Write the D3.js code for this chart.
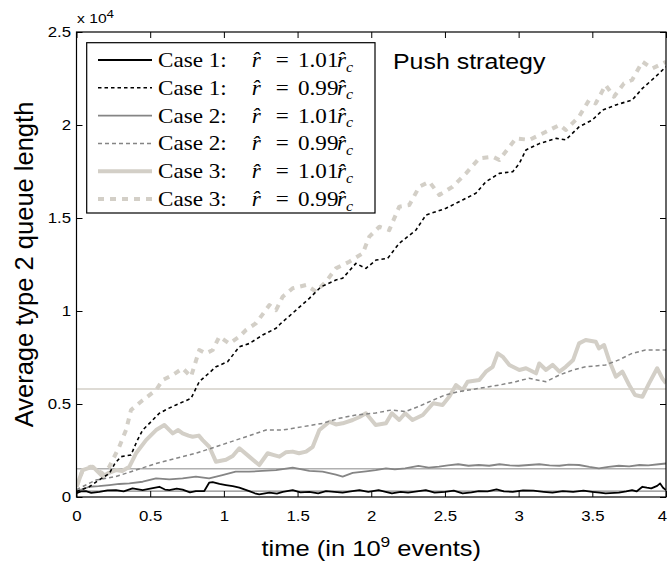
<!DOCTYPE html>
<html><head><meta charset="utf-8">
<script src="https://cdn.jsdelivr.net/npm/d3@7"></script>
<style>body{margin:0;background:#fff}svg{display:block}</style>
</head><body>
<svg id="c" width="668" height="565"></svg>
<script>
// ---- data (values in units of 10^4) ----
const xTicks = [0, 0.5, 1, 1.5, 2, 2.5, 3, 3.5, 4];
const yTicks = [0, 0.5, 1, 1.5, 2, 2.5];
const xTickLabels = ["0","0.5","1","1.5","2","2.5","3","3.5","4"];
const yTickLabels = ["0","0.5","1","1.5","2","2.5"];

const case1High = [[0,0.02],[0.03,0.03],[0.064,0.032],[0.1,0.022],[0.155,0.028],[0.21,0.036],[0.268,0.037],[0.32,0.03],[0.38,0.046],[0.449,0.037],[0.5,0.045],[0.562,0.055],[0.6,0.04],[0.63,0.037],[0.68,0.045],[0.72,0.04],[0.77,0.025],[0.81,0.032],[0.867,0.032],[0.9,0.077],[0.924,0.08],[0.97,0.07],[1.014,0.064],[1.06,0.058],[1.105,0.05],[1.172,0.032],[1.21,0.02],[1.24,0.014],[1.309,0.023],[1.36,0.018],[1.4,0.028],[1.467,0.037],[1.52,0.025],[1.58,0.028],[1.64,0.02],[1.693,0.032],[1.75,0.028],[1.806,0.023],[1.86,0.03],[1.92,0.037],[1.98,0.028],[2.05,0.037],[2.14,0.02],[2.2,0.028],[2.25,0.023],[2.31,0.03],[2.37,0.037],[2.43,0.024],[2.5,0.028],[2.56,0.034],[2.62,0.02],[2.68,0.025],[2.73,0.032],[2.79,0.03],[2.85,0.041],[2.9,0.03],[2.96,0.028],[3.03,0.036],[3.1,0.034],[3.17,0.028],[3.23,0.023],[3.3,0.032],[3.37,0.028],[3.44,0.034],[3.5,0.028],[3.55,0.024],[3.59,0.02],[3.68,0.023],[3.73,0.03],[3.77,0.037],[3.8,0.03],[3.84,0.055],[3.87,0.05],[3.9,0.046],[3.94,0.06],[3.96,0.073],[3.98,0.05],[4.0,0.037]];

const case1Low = [[0,0.03],[0.087,0.055],[0.15,0.09],[0.223,0.127],[0.26,0.18],[0.302,0.217],[0.37,0.226],[0.41,0.3],[0.449,0.36],[0.5,0.4],[0.562,0.45],[0.62,0.475],[0.675,0.495],[0.777,0.53],[0.833,0.62],[0.89,0.66],[0.946,0.70],[1.025,0.727],[1.105,0.808],[1.172,0.825],[1.263,0.871],[1.354,0.907],[1.387,0.934],[1.44,0.97],[1.49,1.005],[1.58,1.068],[1.659,1.13],[1.76,1.167],[1.806,1.176],[1.896,1.256],[1.964,1.229],[2.032,1.274],[2.111,1.283],[2.19,1.364],[2.303,1.435],[2.371,1.516],[2.507,1.552],[2.62,1.597],[2.71,1.633],[2.778,1.695],[2.869,1.74],[2.96,1.749],[3.005,1.794],[3.05,1.866],[3.141,1.90],[3.254,1.928],[3.32,1.92],[3.41,1.99],[3.5,2.027],[3.57,2.08],[3.66,2.108],[3.77,2.134],[3.84,2.197],[3.93,2.26],[4.0,2.313]];

const case2High = [[0,0.03],[0.087,0.055],[0.15,0.058],[0.223,0.064],[0.29,0.07],[0.359,0.073],[0.449,0.082],[0.54,0.1],[0.63,0.095],[0.72,0.1],[0.81,0.11],[0.9,0.1],[0.99,0.118],[1.08,0.136],[1.17,0.136],[1.26,0.14],[1.354,0.145],[1.467,0.158],[1.52,0.15],[1.58,0.14],[1.67,0.136],[1.76,0.12],[1.806,0.11],[1.874,0.13],[1.964,0.138],[2.03,0.145],[2.1,0.154],[2.16,0.148],[2.23,0.154],[2.32,0.167],[2.39,0.158],[2.46,0.163],[2.52,0.17],[2.59,0.176],[2.66,0.168],[2.73,0.172],[2.8,0.168],[2.87,0.176],[2.94,0.17],[3.0,0.168],[3.07,0.172],[3.14,0.176],[3.21,0.17],[3.277,0.168],[3.34,0.174],[3.41,0.172],[3.48,0.162],[3.545,0.154],[3.61,0.162],[3.68,0.168],[3.75,0.165],[3.82,0.172],[3.88,0.17],[3.95,0.176],[4.0,0.18]];

const case2Low = [[0,0.04],[0.132,0.091],[0.268,0.11],[0.404,0.145],[0.54,0.18],[0.675,0.208],[0.81,0.235],[0.946,0.27],[1.082,0.306],[1.218,0.342],[1.286,0.36],[1.399,0.36],[1.535,0.378],[1.67,0.396],[1.783,0.423],[1.896,0.441],[2.03,0.452],[2.14,0.468],[2.23,0.459],[2.32,0.486],[2.42,0.521],[2.5,0.548],[2.59,0.566],[2.73,0.584],[2.87,0.602],[2.98,0.62],[3.07,0.638],[3.186,0.62],[3.277,0.656],[3.37,0.683],[3.455,0.7],[3.59,0.71],[3.68,0.737],[3.77,0.772],[3.86,0.79],[4.0,0.79]];

const case3High = [[0,0.055],[0.042,0.145],[0.11,0.163],[0.178,0.11],[0.22,0.13],[0.268,0.145],[0.31,0.14],[0.359,0.163],[0.404,0.235],[0.472,0.306],[0.54,0.36],[0.596,0.387],[0.653,0.342],[0.69,0.36],[0.72,0.342],[0.76,0.33],[0.788,0.324],[0.83,0.33],[0.856,0.306],[0.901,0.27],[0.946,0.19],[1.014,0.2],[1.06,0.22],[1.105,0.262],[1.172,0.217],[1.24,0.172],[1.297,0.235],[1.34,0.225],[1.377,0.217],[1.42,0.24],[1.467,0.244],[1.51,0.235],[1.558,0.244],[1.603,0.27],[1.648,0.36],[1.716,0.405],[1.76,0.39],[1.806,0.396],[1.874,0.414],[1.92,0.43],[1.964,0.45],[2.03,0.387],[2.1,0.396],[2.14,0.45],[2.19,0.414],[2.23,0.45],[2.28,0.414],[2.35,0.441],[2.42,0.504],[2.484,0.495],[2.53,0.54],[2.575,0.602],[2.62,0.575],[2.654,0.62],[2.733,0.629],[2.778,0.674],[2.824,0.7],[2.858,0.772],[2.891,0.755],[2.937,0.71],[3.005,0.683],[3.05,0.692],[3.118,0.665],[3.14,0.718],[3.186,0.683],[3.231,0.71],[3.277,0.674],[3.32,0.7],[3.37,0.737],[3.41,0.826],[3.455,0.844],[3.523,0.835],[3.545,0.799],[3.58,0.817],[3.613,0.737],[3.66,0.647],[3.704,0.674],[3.75,0.602],[3.79,0.548],[3.84,0.539],[3.885,0.611],[3.94,0.692],[3.975,0.638],[4.0,0.611]];

const case3Low = [[0,0.055],[0.042,0.145],[0.098,0.163],[0.178,0.127],[0.223,0.163],[0.29,0.27],[0.336,0.36],[0.37,0.468],[0.449,0.52],[0.54,0.575],[0.585,0.629],[0.653,0.656],[0.72,0.692],[0.777,0.647],[0.833,0.79],[0.879,0.772],[0.924,0.79],[0.969,0.862],[1.037,0.825],[1.105,0.862],[1.15,0.898],[1.218,0.934],[1.309,1.032],[1.354,1.005],[1.399,1.077],[1.467,1.122],[1.558,1.14],[1.625,1.104],[1.693,1.158],[1.76,1.229],[1.851,1.265],[1.942,1.31],[1.987,1.40],[2.055,1.453],[2.122,1.435],[2.19,1.561],[2.258,1.57],[2.326,1.668],[2.394,1.695],[2.462,1.624],[2.552,1.668],[2.643,1.74],[2.733,1.821],[2.824,1.83],[2.869,1.812],[2.982,1.928],[3.073,1.92],[3.186,1.964],[3.277,2.0],[3.32,1.973],[3.41,2.045],[3.478,2.134],[3.523,2.116],[3.59,2.215],[3.647,2.152],[3.715,2.224],[3.77,2.242],[3.84,2.34],[3.907,2.304],[4.0,2.34]];

const refLevels = [0.58, 0.152, 0.032];

const legendCases = ["Case 1:", "Case 1:", "Case 2:", "Case 2:", "Case 3:", "Case 3:"];
const legendFactors = ["1.01", "0.99", "1.01", "0.99", "1.01", "0.99"];

// ---- styles ----
const beige = "#d3cfc7", gray = "#858585";
const seriesStyle = [
  {data: case3High, color: beige, w: 4, dash: null},
  {data: case3Low,  color: beige, w: 4, dash: "6,6"},
  {data: case2High, color: gray, w: 1.8, dash: null},
  {data: case2Low,  color: gray, w: 1.5, dash: "4,3"},
  {data: case1High, color: "#000", w: 1.8, dash: null},
  {data: case1Low,  color: "#000", w: 1.6, dash: "3.5,3"}
];
const legendStyle = [seriesStyle[4], seriesStyle[5], seriesStyle[2], seriesStyle[3], seriesStyle[0], seriesStyle[1]];
const refStyle = [{color: beige, w: 1.5}, {color: "#b0b0b0", w: 1.5}, {color: "#8a8a8a", w: 1.2}];

const SX = 1.16; // horizontal stretch of the original's text
const SXL = 1.1;  // legend text stretch
const sans = "'Liberation Sans', Arial, Helvetica, sans-serif";
const serif = "'Liberation Serif', 'Times New Roman', serif";

const svg = d3.select("#c");
const L = 76.5, R = 666, T = 32, B = 497;
const x = d3.scaleLinear([0, 4], [L, R]);
const y = d3.scaleLinear([0, 2.5], [B, T]);

svg.append("defs").append("clipPath").attr("id","clip")
  .append("rect").attr("x", L).attr("y", T).attr("width", R - L).attr("height", B - T);

const plot = svg.append("g").attr("clip-path", "url(#clip)");

// reference lines
refLevels.forEach((v, i) => {
  plot.append("line").attr("x1", L).attr("x2", R).attr("y1", y(v)).attr("y2", y(v))
    .attr("stroke", refStyle[i].color).attr("stroke-width", refStyle[i].w);
});

const line = d3.line().x(d => x(d[0])).y(d => y(d[1]));
seriesStyle.forEach(s => {
  plot.append("path").attr("d", line(s.data)).attr("fill", "none")
    .attr("stroke", s.color).attr("stroke-width", s.w)
    .attr("stroke-linejoin", "round")
    .attr("stroke-dasharray", s.dash);
});

// axes
function styleAxis(g) {
  g.select(".domain").remove();
  g.selectAll(".tick line").attr("stroke", "#000").attr("stroke-width", 1);
  g.selectAll("text").attr("font-family", sans).attr("font-size", 14.5).attr("fill", "#000");
}
const gx = svg.append("g").attr("transform", `translate(0,${B})`)
  .call(d3.axisBottom(x).tickValues(xTicks).tickFormat((d, i) => xTickLabels[i]).tickSize(-6).tickSizeOuter(0));
styleAxis(gx);
gx.selectAll("text").attr("y", 23.7).attr("dy", 0).attr("transform", `scale(${SX},1)`)
  .attr("x", (d, i) => i === xTicks.length - 1 ? -4 / SX : 0);

const gy = svg.append("g").attr("transform", `translate(${L},0)`)
  .call(d3.axisLeft(y).tickValues(yTicks).tickFormat((d, i) => yTickLabels[i]).tickSize(-6).tickSizeOuter(0));
styleAxis(gy);
gy.selectAll("text").attr("x", -5.5 / SX).attr("dy", "0.34em").attr("transform", `scale(${SX},1)`);

const gt = svg.append("g").attr("transform", `translate(0,${T})`)
  .call(d3.axisTop(x).tickValues(xTicks).tickFormat("").tickSize(-6).tickSizeOuter(0));
styleAxis(gt);
const gr = svg.append("g").attr("transform", `translate(${R},0)`)
  .call(d3.axisRight(y).tickValues(yTicks).tickFormat("").tickSize(-6).tickSizeOuter(0));
styleAxis(gr);

svg.append("rect").attr("x", L).attr("y", T).attr("width", R - L).attr("height", B - T)
  .attr("fill", "none").attr("stroke", "#000").attr("stroke-width", 1.2);

// exponent label
const ex = svg.append("g").attr("transform", `translate(77,23) scale(${SX},1)`)
  .append("text").attr("font-family", sans).attr("font-size", 13.5).attr("fill", "#000");
ex.append("tspan").text("x 10");
ex.append("tspan").attr("font-size", 11.5).attr("dy", -5.5).text("4");

// axis titles
const xt = svg.append("g").attr("transform", `translate(${(L + R) / 2},556) scale(${SX},1)`)
  .append("text").attr("text-anchor", "middle").attr("font-family", sans).attr("font-size", 22).attr("fill", "#000");
xt.append("tspan").text("time (in 10");
xt.append("tspan").attr("font-size", 15).attr("dy", -9).text("9");
xt.append("tspan").attr("dy", 9).text(" events)");

svg.append("g").attr("transform", `translate(33,${(T + B) / 2}) rotate(-90)`)
  .append("text").attr("text-anchor", "middle").attr("font-family", sans).attr("font-size", 25.5).attr("fill", "#000")
  .text("Average type 2 queue length");

svg.append("g").attr("transform", `translate(393,69.3) scale(${SX},1)`)
  .append("text").attr("font-family", sans).attr("font-size", 21.5).attr("fill", "#000")
  .text("Push strategy");

// legend
svg.append("rect").attr("x", 86.7).attr("y", 42.7).attr("width", 375 - 86.7).attr("height", 213 - 42.7)
  .attr("fill", "#fff").attr("stroke", "#000").attr("stroke-width", 1.2);
legendCases.forEach((c, i) => {
  const yy = 60 + i * 27.8;
  const s = legendStyle[i];
  svg.append("line").attr("x1", 98).attr("x2", 152).attr("y1", yy).attr("y2", yy)
    .attr("stroke", s.color).attr("stroke-width", s.w).attr("stroke-dasharray", s.dash);
  const t = svg.append("g").attr("transform", `translate(158,${yy + 7}) scale(${SXL},1)`)
    .append("text").attr("font-family", serif).attr("font-size", 21).attr("fill", "#000");
  t.append("tspan").attr("x", 0).text(c);
  t.append("tspan").attr("x", 85.2).attr("font-style", "italic").text("r\u0302");
  t.append("tspan").attr("x", 107).text("=");
  t.append("tspan").attr("x", 127.3).text(legendFactors[i]);
  t.append("tspan").attr("x", 162.7).attr("font-style", "italic").text("r\u0302");
  t.append("tspan").attr("x", 171).attr("dy", 4.5).attr("font-size", 14.5).attr("font-style", "italic").text("c");
});
</script>
</body></html>
